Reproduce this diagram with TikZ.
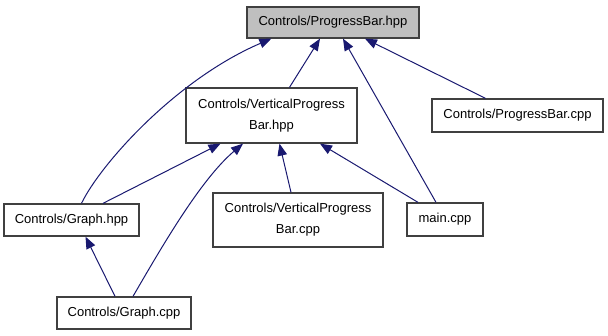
\documentclass[tikz,border=0pt]{standalone}
\usepackage{fontspec}
\setmainfont{Liberation Sans}
\usetikzlibrary{arrows.meta}
\definecolor{edgeblue}{HTML}{191970}
\definecolor{boxgray}{HTML}{BFBFBF}
\definecolor{boxline}{HTML}{404040}
\begin{document}
\begin{tikzpicture}[x=1pt,y=-1pt,
  filebox/.style={draw=boxline,line width=1.3pt,fill=white,rectangle,inner sep=0pt,
    align=center,font=\fontsize{13}{21}\selectfont},
  dep/.style={draw=edgeblue,line width=1pt,
    -{Triangle[length=12pt,width=9.5pt,fill=edgeblue]}}]
\useasboundingbox (0,0) rectangle (608,336);

% header nodes
\node[filebox,fill=boxgray,minimum width=172pt,minimum height=31pt] (pbh) at (333,22.5) {Controls/ProgressBar.hpp};
\node[filebox,minimum width=171pt,minimum height=55pt] (vph) at (271.5,115.5) {Controls/VerticalProgress\\Bar.hpp};
\node[filebox,minimum width=171pt,minimum height=33pt] (pbc) at (517.5,115.5) {Controls/ProgressBar.cpp};
\node[filebox,minimum width=135pt,minimum height=32pt] (gh) at (71.5,220) {Controls/Graph.hpp};
\node[filebox,minimum width=170pt,minimum height=54pt] (vpc) at (298,220) {Controls/VerticalProgress\\Bar.cpp};
\node[filebox,minimum width=76pt,minimum height=33pt] (mc) at (445,219.5) {main.cpp};
\node[filebox,minimum width=134pt,minimum height=32pt] (gc) at (124,313) {Controls/Graph.cpp};

% include dependencies
\draw[dep] ([xshift=10pt]gh.north) .. controls (100,165) and (175,80) .. ([xshift=25pt]pbh.south west);
\draw[dep] ([xshift=18pt]vph.north) -- ([xshift=-13pt]pbh.south);
\draw[dep] ([xshift=-9pt]mc.north) -- ([xshift=10pt]pbh.south);
\draw[dep] ([xshift=-32pt]pbc.north) -- ([xshift=32pt]pbh.south);
\draw[dep] ([xshift=31.5pt]gh.north) -- ([xshift=-51pt]vph.south);
\draw[dep] ([xshift=9pt]gc.north) .. controls (160,250) and (200,180) .. ([xshift=-28.5pt]vph.south);
\draw[dep] ([xshift=-7pt]vpc.north) -- ([xshift=8pt]vph.south);
\draw[dep] ([xshift=-27pt]mc.north) -- ([xshift=48.5pt]vph.south);
\draw[dep] ([xshift=-9pt]gc.north) -- ([xshift=14pt]gh.south);
\end{tikzpicture}
\end{document}
